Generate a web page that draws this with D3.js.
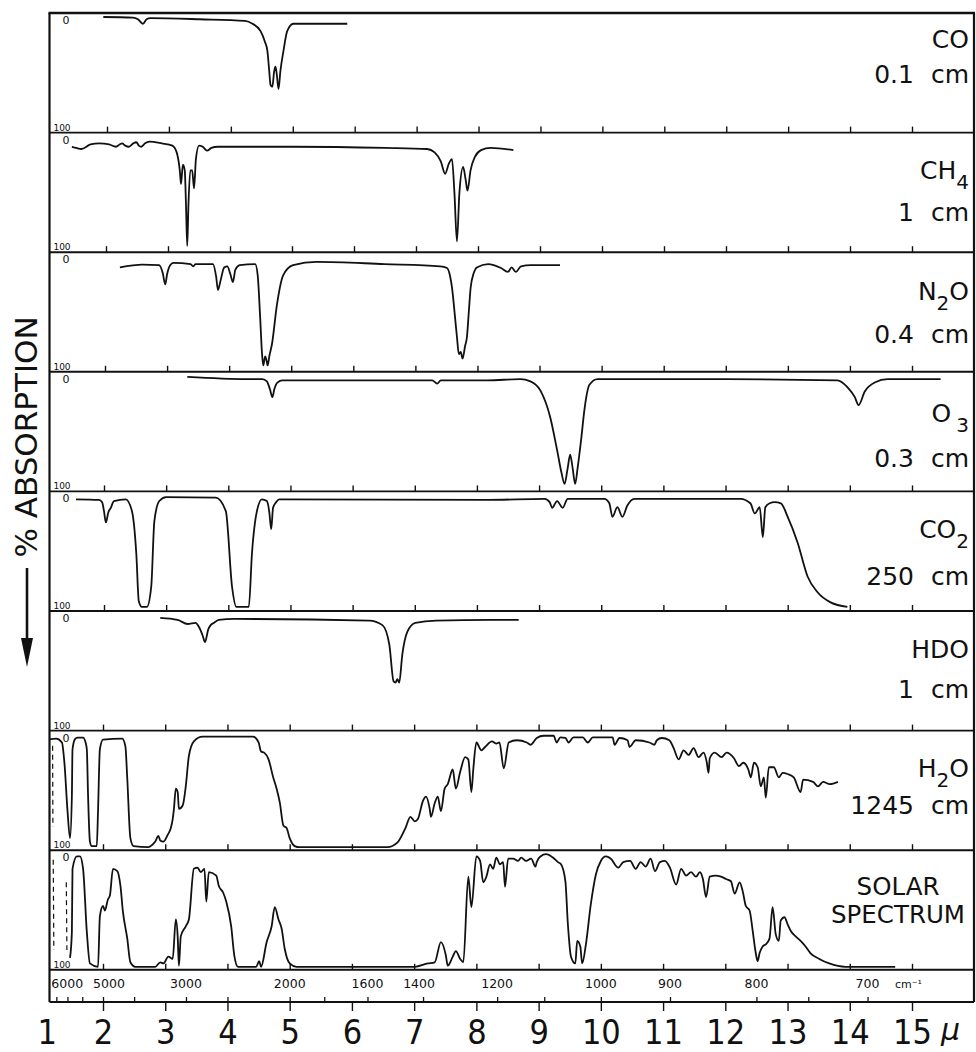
<!DOCTYPE html>
<html><head><meta charset="utf-8">
<script src="https://cdn.jsdelivr.net/npm/d3@7"></script>
<style>
html,body{margin:0;padding:0;background:#fff;}
svg{display:block;}
</style></head>
<body><svg id="chart" width="976" height="1052"></svg>
<script>
// ---------------- DATA (wavelength in micron, % absorption) ----------------
const gases = ["CO", "CH4", "N2O", "O3", "CO2", "HDO", "H2O", "SOLAR"];
const amounts = ["0.1 cm", "1 cm", "0.4 cm", "0.3 cm", "250 cm", "1 cm", "1245 cm", ""];
const micronTicks = [1, 2, 3, 4, 5, 6, 7, 8, 9, 10, 11, 12, 13, 14, 15];
const panelTicks = [2, 3, 4, 5, 6, 7, 8, 9, 10, 11, 12, 13, 14, 15];
const wavenumberLabels = [6000, 5000, 3000, 2000, 1600, 1400, 1200, 1000, 900, 800, 700];
const wavenumberTicks = [8000, 7000, 6000, 5000, 4000, 3000, 2500, 2000, 1800, 1600, 1400, 1200, 1100, 1000, 900, 800, 750, 700];

const coAbs = [[1.94,0],[2.42,0.5],[2.50,2],[2.58,6],[2.64,2],[2.70,1],[3.5,2],[4.23,3.5],[4.35,6],[4.48,12.6],[4.55,22],[4.59,30],[4.62,48],[4.64,60],[4.67,62],[4.70,48],[4.72,44],[4.74,50],[4.77,64],[4.80,48],[4.85,30],[4.91,12.6],[5.01,6],[5.3,6],[5.88,6]];

const ch4Abs = [[1.45,9],[1.52,10],[1.60,11],[1.75,7],[1.89,6],[2.05,7],[2.16,9],[2.22,7],[2.26,6],[2.31,8],[2.37,9],[2.44,6],[2.49,5],[2.53,8],[2.57,9],[2.63,6],[2.70,4.5],[2.9,6],[3.07,8],[3.14,14],[3.19,30],[3.21,42],[3.24,25],[3.27,30],[3.29,60],[3.31,97],[3.33,60],[3.36,30],[3.39,30],[3.42,46],[3.45,20],[3.50,8],[3.56,9],[3.63,12.5],[3.70,10],[3.80,9],[5.0,9],[6.5,10],[7.18,11],[7.30,14],[7.40,22],[7.47,33],[7.53,24],[7.58,20],[7.62,50],[7.66,93],[7.70,50],[7.76,27],[7.80,38],[7.83,48],[7.88,30],[7.95,18],[8.05,12],[8.20,10],[8.57,12]];

const n2oAbs = [[2.24,10],[2.6,7.5],[2.87,8],[2.93,15],[2.97,25],[3.0,16],[3.05,8],[3.10,6],[3.38,7],[3.42,9],[3.46,7],[3.74,7],[3.79,18],[3.82,30],[3.86,22],[3.92,10],[3.97,9],[4.02,16],[4.06,23],[4.10,12],[4.17,8],[4.42,7],[4.46,17],[4.50,55],[4.53,87],[4.55,97],[4.58,89],[4.60,92],[4.62,97],[4.65,88],[4.69,78],[4.77,43],[4.87,17],[5.03,8],[5.41,5],[6.5,7],[7.4,9],[7.51,10.5],[7.56,18],[7.59,28],[7.64,55],[7.67,72],[7.70,87],[7.73,85],[7.76,91],[7.80,80],[7.83,72],[7.86,50],[7.89,28],[7.94,15],[7.99,10],[8.17,7],[8.38,10.5],[8.49,14],[8.55,10],[8.62,14],[8.70,9],[8.86,8],[9.33,8]];

const o3Abs = [[3.34,1],[4.3,3],[4.55,3],[4.62,5],[4.67,12],[4.71,19],[4.74,12],[4.79,6],[4.87,4],[6.0,4],[7.28,4],[7.36,7],[7.42,4],[8.17,4],[8.70,3],[8.86,5],[9.02,13],[9.18,37],[9.29,66],[9.36,86],[9.41,96],[9.46,82],[9.50,70],[9.54,82],[9.58,96],[9.62,82],[9.68,55],[9.73,30],[9.81,8],[9.94,3],[12.0,3],[13.8,4],[13.96,10],[14.08,19],[14.14,26],[14.24,14],[14.40,6],[14.61,3],[15.46,3]];

const co2Abs = [[1.55,3.5],[1.92,4],[1.97,6],[2.00,14],[2.03,24],[2.07,15],[2.11,11],[2.16,5],[2.35,3.5],[2.45,14],[2.52,52],[2.56,94],[2.61,99],[2.69,99],[2.76,81],[2.81,23],[2.89,5],[3.0,1.5],[3.8,2],[3.96,14],[4.06,81],[4.13,99],[4.33,99],[4.38,52],[4.46,14],[4.54,3.5],[4.62,5],[4.66,15],[4.69,30],[4.72,11],[4.77,6],[4.82,3.5],[8.17,4],[9.09,3],[9.17,6],[9.21,11],[9.29,5],[9.38,11],[9.46,3],[10.05,3],[10.13,7],[10.18,19],[10.26,10.5],[10.34,19],[10.42,9],[10.53,3],[12.24,3],[12.40,7],[12.47,16],[12.55,10.5],[12.60,37],[12.64,10.5],[12.71,7],[12.79,6],[12.89,7],[13.0,19],[13.16,42],[13.32,72],[13.48,86],[13.69,95],[13.96,99]];

const hdoAbs = [[2.92,2.6],[3.2,4.4],[3.36,8],[3.49,7],[3.54,10.5],[3.60,18],[3.64,24],[3.69,13],[3.73,9],[3.78,7],[3.86,4.4],[4.11,3.5],[6.28,5],[6.49,9],[6.60,26],[6.67,59],[6.70,60],[6.73,57],[6.76,60],[6.81,35],[6.89,15],[7.02,7],[7.35,5],[8.24,4.4],[8.68,4.4]];

const h2oAbs = [[1.11,4.4],[1.25,3.5],[1.34,7],[1.38,25],[1.43,68],[1.47,92],[1.50,54],[1.51,13],[1.55,4],[1.59,2.6],[1.68,2.6],[1.72,7],[1.74,13],[1.76,54],[1.79,95],[1.82,99],[1.90,99],[1.92,68],[1.95,13],[2.0,4.4],[2.31,3.5],[2.36,10.5],[2.39,39],[2.44,92],[2.49,99],[2.73,100],[2.79,98],[2.84,95],[2.89,90],[2.92,94],[2.97,95],[3.04,89],[3.09,83],[3.12,75],[3.14,66],[3.17,48],[3.20,51],[3.22,66],[3.28,63],[3.33,46],[3.38,19],[3.46,6],[3.60,1.75],[4.41,1.75],[4.50,7],[4.54,15],[4.59,16],[4.66,22],[4.74,39],[4.79,48],[4.84,60],[4.90,81],[4.95,83],[5.0,92],[5.08,99],[5.16,100],[6.57,100],[6.73,96],[6.86,83],[6.94,73],[7.01,77],[7.06,75],[7.14,59],[7.19,55],[7.25,66],[7.27,73],[7.33,61],[7.38,55],[7.43,68],[7.49,48],[7.54,44],[7.62,31],[7.67,48],[7.74,33],[7.82,20],[7.87,22],[7.92,51],[7.95,31],[8.0,7],[8.08,14],[8.14,11],[8.25,6],[8.32,8],[8.37,7],[8.44,30],[8.52,7],[8.65,5],[8.81,7],[8.87,9],[8.97,3],[9.08,1],[9.24,1],[9.29,7],[9.35,2.5],[9.43,3],[9.48,7],[9.56,2.5],[9.71,2.5],[9.79,7],[9.87,2.5],[10.19,2.5],[10.22,9],[10.30,3],[10.43,5],[10.46,11],[10.56,5],[10.78,7],[10.86,9],[10.90,5],[10.98,3],[11.10,5],[11.17,12],[11.25,22],[11.33,14],[11.41,18],[11.49,12],[11.57,20],[11.65,16],[11.70,24],[11.73,34],[11.75,21],[11.83,16],[11.94,20],[12.02,16],[12.14,21],[12.22,28],[12.29,25],[12.37,31],[12.41,38],[12.46,25],[12.52,29],[12.57,46],[12.62,38],[12.65,56],[12.70,29],[12.78,29],[12.86,38],[12.92,34],[13.0,35],[13.10,38],[13.21,51],[13.25,40],[13.41,42],[13.49,46],[13.57,42],[13.68,44],[13.81,42]];
const h2oDashed = [[1.19,10],[1.195,82]];

const solarAbs = [[1.47,92],[1.50,69],[1.51,13],[1.58,2],[1.63,2],[1.68,13],[1.74,69],[1.79,97],[1.92,100],[1.95,55],[2.0,46],[2.03,50],[2.08,40],[2.11,37],[2.16,13],[2.23,15],[2.28,28],[2.32,51],[2.39,75],[2.44,96],[2.52,100],[2.84,100],[2.92,96],[2.97,97],[3.05,91],[3.12,93],[3.17,58],[3.20,73],[3.22,99],[3.25,73],[3.33,64],[3.38,58],[3.46,13],[3.52,12],[3.57,16],[3.63,13],[3.66,42],[3.70,16],[3.82,19],[3.86,28],[3.93,34],[3.98,42],[4.06,64],[4.11,90],[4.17,100],[4.46,100],[4.51,95],[4.54,100],[4.63,78],[4.71,64],[4.76,47],[4.82,58],[4.87,66],[4.92,84],[5.0,97],[5.11,100],[7.01,100],[7.22,97],[7.33,96],[7.43,78],[7.51,90],[7.54,99],[7.62,91],[7.67,86],[7.74,93],[7.79,96],[7.87,20],[7.92,47],[8.0,2],[8.06,6],[8.11,25],[8.16,20],[8.22,9],[8.27,13],[8.32,3],[8.38,9],[8.43,7],[8.46,29],[8.51,4],[8.59,4],[8.67,6],[8.72,3],[8.80,6],[8.88,4],[8.95,11],[8.97,7],[9.03,2],[9.12,0],[9.23,3],[9.31,7],[9.36,9],[9.43,24],[9.47,62],[9.52,91],[9.59,97],[9.62,77],[9.67,82],[9.70,97],[9.76,80],[9.84,44],[9.92,18],[10.0,6],[10.08,2],[10.16,4],[10.28,12],[10.36,7],[10.47,6],[10.56,13],[10.64,7],[10.72,11],[10.80,4],[10.87,15],[10.95,7],[11.03,6],[11.11,12],[11.21,27],[11.29,13],[11.37,19],[11.45,16],[11.53,20],[11.59,16],[11.64,22],[11.69,38],[11.75,20],[11.85,19],[11.93,20],[12.01,22],[12.09,24],[12.15,35],[12.23,25],[12.28,33],[12.33,46],[12.39,50],[12.44,68],[12.49,88],[12.52,95],[12.55,88],[12.60,82],[12.65,80],[12.71,75],[12.76,47],[12.81,71],[12.86,77],[12.89,59],[12.95,56],[13.0,62],[13.05,68],[13.13,73],[13.21,77],[13.29,82],[13.37,88],[13.51,93],[13.67,97],[13.93,100],[14.2,100],[14.73,100]];
const solarDashed = [[1.20,5],[1.21,85]];
const solarDashed2 = [[1.41,25],[1.42,85]];

// ---------------- LAYOUT ----------------
const spectra = [coAbs, ch4Abs, n2oAbs, o3Abs, co2Abs, hdoAbs, h2oAbs, solarAbs];
const labelParts = {
  CO: [["CO", 0]],
  CH4: [["CH", 0], ["4", 1]],
  N2O: [["N", 0], ["2", 1], ["O", 0]],
  O3: [["O", 0], ["3", 1]],
  CO2: [["CO", 0], ["2", 1]],
  HDO: [["HDO", 0]],
  H2O: [["H", 0], ["2", 1], ["O", 0]]
};
const labelDy = [[35,70],[46,88],[48,91],[50,95],[47,94],[47,87],[46,83],[45,73]];
// the printed figure is slightly skewed: upper panels start a few pixels further right
const panelX0 = [107, 106, 105, 104, 104, 103, 103, 103];

const frameL = 49.5, frameR = 974, frameT = 13, panelH = 119.6;
const stripTop = frameT + gases.length * panelH;
const stripBot = 1002;
const ink = "#111";

const svg = d3.select("#chart");
const x = d3.scaleLinear().domain([2, 15]).range([103, 912]);

svg.append("defs").append("clipPath").attr("id", "frameClip")
  .append("rect").attr("x", frameL).attr("y", frameT)
  .attr("width", frameR - frameL).attr("height", stripTop - frameT);

gases.forEach((g, i) => {
  const top = frameT + i * panelH;
  const bot = top + panelH;
  const xp = d3.scaleLinear().domain([2, 15]).range([panelX0[i], 912]);
  const y = d3.scaleLinear().domain([0, 100]).range([top + 4, bot - 3]);
  const gp = svg.append("g").attr("class", "panel");

  // spectrum
  gp.append("path").datum(spectra[i])
    .attr("clip-path", "url(#frameClip)")
    .attr("d", d3.line().x(d => xp(d[0])).y(d => y(d[1])).curve(d3.curveMonotoneX))
    .attr("fill", "none").attr("stroke", ink).attr("stroke-width", 1.8)
    .attr("stroke-linejoin", "round");

  const dashes = g === "H2O" ? [h2oDashed] : (g === "SOLAR" ? [solarDashed, solarDashed2] : []);
  dashes.forEach(dd => {
    gp.append("path").datum(dd).attr("clip-path", "url(#frameClip)")
      .attr("d", d3.line().x(d => xp(d[0])).y(d => y(d[1])))
      .attr("fill", "none").attr("stroke", ink).attr("stroke-width", 1.2)
      .attr("stroke-dasharray", "5,4");
  });

  // bottom separator with upward micron ticks
  const ax = gp.append("g").attr("transform", `translate(0,${bot})`)
    .call(d3.axisTop(xp).tickValues(panelTicks).tickSize(6).tickFormat(""));
  ax.select(".domain").remove();
  ax.selectAll(".tick line").attr("stroke", ink).attr("stroke-width", 1.4);
  gp.append("line").attr("x1", frameL).attr("x2", frameR).attr("y1", bot).attr("y2", bot)
    .attr("stroke", ink).attr("stroke-width", 1.9);

  // small 0 / 100 scale marks
  gp.append("text").attr("x", 66).attr("y", top + 11).attr("text-anchor", "middle")
    .attr("font-family", "DejaVu Sans").attr("font-size", 11).attr("fill", ink).text("0");
  gp.append("text").attr("x", 62).attr("y", bot - 2).attr("text-anchor", "middle")
    .attr("font-family", "DejaVu Sans").attr("font-size", 9).attr("fill", ink).text("100");

  // right labels
  const fam = "DejaVu Sans";
  if (g === "SOLAR") {
    ["SOLAR", "SPECTRUM"].forEach((t, k) => {
      gp.append("text").attr("x", 898).attr("y", top + labelDy[i][k])
        .attr("text-anchor", "middle").attr("font-family", fam).attr("font-size", 24.5)
        .attr("fill", ink).text(t);
    });
  } else {
    const t = gp.append("text").attr("x", 969).attr("y", top + labelDy[i][0])
      .attr("text-anchor", "end").attr("font-family", fam).attr("font-size", 25).attr("fill", ink);
    let lowered = false;
    labelParts[g].forEach(([s, sub]) => {
      const ts = t.append("tspan").text(s);
      if (sub && !lowered) { ts.attr("dy", 10).attr("font-size", 20); if (g === "O3") ts.attr("dx", 5); lowered = true; }
      else if (!sub && lowered) { ts.attr("dy", -10); lowered = false; }
    });
    gp.append("text").attr("x", 969).attr("y", top + labelDy[i][1])
      .attr("text-anchor", "end").attr("font-family", fam).attr("font-size", 25)
      .attr("word-spacing", 9).attr("fill", ink).text(amounts[i]);
  }
});

// frame
svg.append("line").attr("x1", frameL - 1).attr("x2", frameR + 1).attr("y1", frameT).attr("y2", frameT)
  .attr("stroke", ink).attr("stroke-width", 2.4);
svg.append("line").attr("x1", frameL).attr("x2", frameL).attr("y1", frameT).attr("y2", stripBot)
  .attr("stroke", ink).attr("stroke-width", 2.2);
svg.append("line").attr("x1", frameR).attr("x2", frameR).attr("y1", frameT).attr("y2", stripBot)
  .attr("stroke", ink).attr("stroke-width", 2.2);
svg.append("line").attr("x1", frameL).attr("x2", frameR).attr("y1", stripBot).attr("y2", stripBot)
  .attr("stroke", ink).attr("stroke-width", 1.8);

// wavenumber strip
const wnNudge = {6000: -15, 5000: 6, 1400: -4};
const wnAx = svg.append("g").attr("transform", `translate(0,${stripBot})`)
  .call(d3.axisTop(x).tickValues(wavenumberTicks.map(v => 1e4 / v)).tickSize(5).tickFormat(""));
wnAx.select(".domain").remove();
wnAx.selectAll(".tick line").attr("stroke", ink).attr("stroke-width", 1.3);
svg.append("g").selectAll("text").data(wavenumberLabels).join("text")
  .attr("x", d => x(1e4 / d) + (wnNudge[d] || 0)).attr("y", 988)
  .attr("text-anchor", "middle").attr("font-family", "DejaVu Sans").attr("font-size", 12.5)
  .attr("fill", ink).text(d => d);
svg.append("text").attr("x", 895).attr("y", 988).attr("font-family", "DejaVu Sans")
  .attr("font-size", 11).attr("fill", ink).text("cm⁻¹");

// micron axis
const mAx = svg.append("g").attr("transform", `translate(0,${stripBot})`)
  .call(d3.axisBottom(x).tickValues(micronTicks).tickSize(9).tickPadding(9));
mAx.select(".domain").remove();
mAx.selectAll(".tick line").attr("stroke", ink).attr("stroke-width", 1.4)
  .filter(d => d < 1.5).remove();
mAx.selectAll(".tick text")
  .attr("font-family", "'Liberation Sans Narrow','DejaVu Sans Condensed','Liberation Sans',Arial,sans-serif")
  .attr("font-size", 34).attr("fill", ink)
  .attr("dx", d => d === 1 ? 6 : 0);
svg.append("text").attr("x", 941).attr("y", 1040).attr("font-family", "DejaVu Sans")
  .attr("font-style", "italic").attr("font-size", 30).attr("fill", ink).text("μ");

// y axis title with arrow
svg.append("text").attr("transform", "translate(37,437) rotate(-90)")
  .attr("text-anchor", "middle").attr("font-family", "DejaVu Sans").attr("font-size", 31)
  .attr("fill", ink).text("% ABSORPTION");
svg.append("line").attr("x1", 27).attr("x2", 27).attr("y1", 568).attr("y2", 645)
  .attr("stroke", ink).attr("stroke-width", 2.6);
svg.append("path").attr("d", d3.line()([[21, 638], [33, 638], [27, 667]]) + "Z").attr("fill", ink);
</script>
</body></html>
